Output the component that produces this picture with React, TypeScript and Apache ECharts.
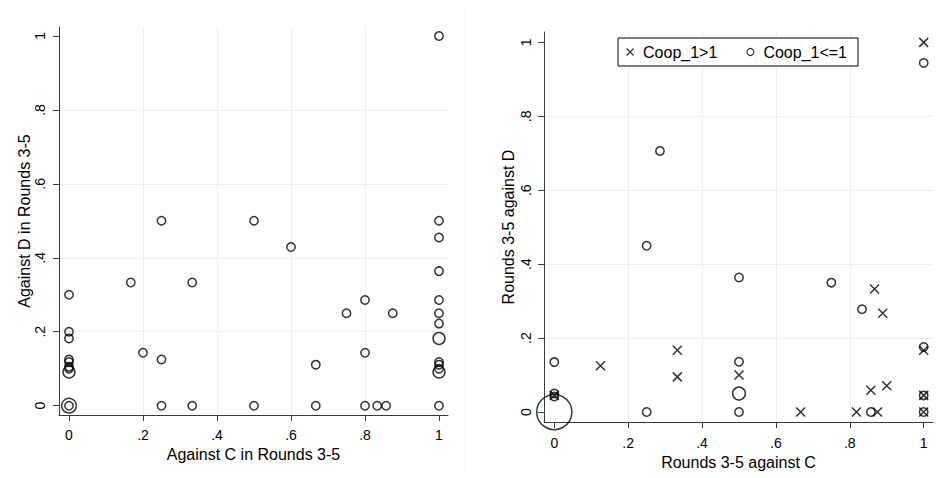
import React, { useEffect, useRef } from 'react';
import * as echarts from 'echarts';

// ---- data ----
const tickValues = [0, 0.2, 0.4, 0.6, 0.8, 1];
const tickLabels = ['0', '.2', '.4', '.6', '.8', '1'];

// Left panel: all observations (x, y, frequency weight)
const leftX = [0, 0, 0, 0, 0, 0, 0, 0, 0, 0,
  0.167, 0.2, 0.25, 0.25, 0.25, 0.333, 0.333, 0.5, 0.5, 0.6, 0.667, 0.667, 0.75, 0.8, 0.8, 0.8, 0.833, 0.857, 0.875,
  1, 1, 1, 1, 1, 1, 1, 1, 1, 1, 1, 1, 1];
const leftY = [0.3, 0.2, 0.182, 0.125, 0.118, 0.105, 0.1, 0.091, 0, 0,
  0.333, 0.143, 0.5, 0.125, 0, 0.333, 0, 0.5, 0, 0.429, 0.111, 0, 0.25, 0.286, 0.143, 0, 0, 0, 0.25,
  1, 0.5, 0.455, 0.364, 0.286, 0.25, 0.222, 0.182, 0.118, 0.111, 0.1, 0.091, 0];
const leftW = [1, 1, 1, 1, 1, 1, 1, 2, 3, 1,
  1, 1, 1, 1, 1, 1, 1, 1, 1, 1, 1, 1, 1, 1, 1, 1, 1, 1, 1,
  1, 1, 1, 1, 1, 1, 1, 2, 1, 1, 1, 2, 1];

// Right panel: Coop_1>1 (x markers)
const highX = [1, 0, 0.125, 0.333, 0.333, 0.5, 0.667, 0.818, 0.875, 0.867, 0.889, 0.857, 0.9, 1, 1, 1];
const highY = [1, 0.045, 0.125, 0.167, 0.095, 0.1, 0, 0, 0, 0.333, 0.267, 0.059, 0.071, 0.167, 0.045, 0];

// Right panel: Coop_1<=1 (circles, weighted)
const lowX = [0, 0, 0, 0, 0.25, 0.25, 0.286, 0.5, 0.5, 0.5, 0.5, 0.75, 0.833, 0.857, 1, 1, 1, 1];
const lowY = [0.135, 0.05, 0.042, 0, 0.45, 0, 0.706, 0.364, 0.136, 0.05, 0, 0.35, 0.278, 0, 0.944, 0.176, 0.045, 0];
const lowW = [1, 1, 1, 17.5, 1, 1, 1, 1, 1, 2.3, 1, 1, 1, 1, 1, 1, 1, 1];

const seriesNames = ['Coop_1>1', 'Coop_1<=1'];
const leftXTitle = 'Against C in Rounds 3-5';
const leftYTitle = 'Against D in Rounds 3-5';
const rightXTitle = 'Rounds 3-5 against C';
const rightYTitle = 'Rounds 3-5 against D';

// ---- style ----
const FONT = 'Liberation Sans, Arial, sans-serif';
const GRID_COLOR = '#e6eff1';
const AXIS_COLOR = '#3a3a3a';
const BASE = 8.4;
const X_PATH = 'path://M0,0L10,10M10,0L0,10';

const fmt = (v: number) => {
  const i = tickValues.findIndex((t) => Math.abs(t - v) < 1e-6);
  return i >= 0 ? tickLabels[i] : '';
};

function makeAxis(kind: 'x' | 'y', gridIndex: number, min: number, max: number, name: string, nameGap: number, labelMargin: number) {
  return {
    type: 'value',
    gridIndex,
    min,
    max,
    name,
    nameLocation: 'middle',
    nameGap,
    nameTextStyle: { fontSize: 16, color: '#000', fontFamily: FONT },
    axisLine: { show: true, onZero: false, lineStyle: { color: AXIS_COLOR, width: 1 } },
    axisTick: { show: true, length: 6, customValues: tickValues, lineStyle: { color: AXIS_COLOR, width: 1 } },
    axisLabel: {
      show: true,
      customValues: tickValues,
      formatter: fmt,
      fontSize: 14,
      color: '#000',
      fontFamily: FONT,
      margin: labelMargin,
      rotate: kind === 'y' ? 90 : 0,
      showMinLabel: true,
      showMaxLabel: true,
    },
    splitLine: { show: true, showMinLine: false, showMaxLine: false, lineStyle: { color: GRID_COLOR, width: 1 } },
  };
}

export default function App() {
  const ref = useRef<HTMLDivElement>(null);
  useEffect(() => {
    if (!ref.current) return;
    const chart = echarts.init(ref.current, null, { renderer: 'svg' });
    const leftData = leftX.map((x, i) => [x, leftY[i], leftW[i]]);
    const highData = highX.map((x, i) => [x, highY[i]]);
    const lowData = lowX.map((x, i) => [x, lowY[i], lowW[i]]);
    const circleStyle = { color: 'rgba(0,0,0,0)', borderColor: '#000', borderWidth: 1.5 };
    chart.setOption({
      animation: false,
      backgroundColor: '#fff',
      grid: [
        { left: 59, top: 27, width: 389, height: 388 },
        { left: 544, top: 32, width: 389, height: 390 },
      ],
      xAxis: [
        makeAxis('x', 0, -0.027, 1.0243, leftXTitle, 26, 13),
        makeAxis('x', 1, -0.0279, 1.0252, rightXTitle, 26, 14),
      ],
      yAxis: [
        makeAxis('y', 0, -0.0252, 1.0243, leftYTitle, 27, 12),
        makeAxis('y', 1, -0.027, 1.028, rightYTitle, 28, 11),
      ],
      legend: {
        show: true,
        left: 618,
        top: 38,
        orient: 'horizontal',
        data: [
          { name: seriesNames[0], icon: X_PATH },
          { name: seriesNames[1], icon: 'circle' },
        ],
        itemWidth: 7,
        itemHeight: 7,
        itemGap: 29,
        padding: [6, 11, 6, 8],
        borderColor: '#000',
        borderWidth: 1,
        borderRadius: 0,
        backgroundColor: '#fff',
        selectedMode: false,
        formatter: (n: string) => ' ' + n,
        itemStyle: { borderWidth: 1.2 },
        textStyle: { fontSize: 16, color: '#000', fontFamily: FONT },
      },
      graphic: [
        {
          type: 'line',
          shape: { x1: 465, y1: 8, x2: 465, y2: 470 },
          style: { stroke: '#eef2f4', lineWidth: 1 },
          silent: true,
        },
      ],
      series: [
        {
          name: 'all',
          type: 'scatter',
          xAxisIndex: 0,
          yAxisIndex: 0,
          clip: false,
          symbol: 'circle',
          symbolSize: (v: number[]) => BASE * Math.sqrt(v[2]),
          itemStyle: circleStyle,
          data: leftData,
        },
        {
          name: seriesNames[0],
          type: 'scatter',
          xAxisIndex: 1,
          yAxisIndex: 1,
          clip: false,
          symbol: X_PATH,
          symbolSize: 9,
          itemStyle: { color: 'rgba(0,0,0,0)', borderColor: '#000', borderWidth: 1.5 },
          data: highData,
        },
        {
          name: seriesNames[1],
          type: 'scatter',
          xAxisIndex: 1,
          yAxisIndex: 1,
          clip: false,
          symbol: 'circle',
          symbolSize: (v: number[]) => BASE * Math.sqrt(v[2]),
          itemStyle: circleStyle,
          data: lowData,
        },
      ],
    });
    return () => chart.dispose();
  }, []);
  return (
    <div
      ref={ref}
      style={{ position: 'fixed', left: 0, top: 0, width: 937, height: 478, background: '#fff' }}
    />
  );
}
